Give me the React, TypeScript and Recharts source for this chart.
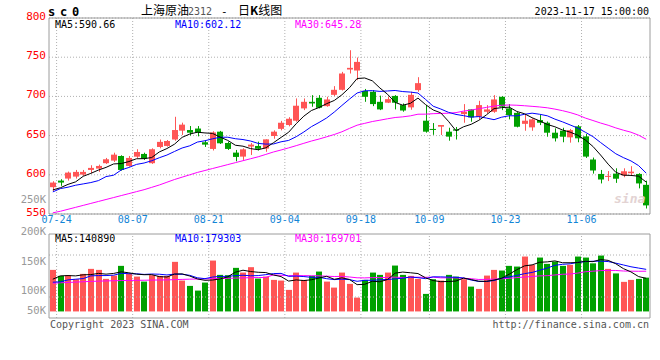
import React from 'react';
import { ComposedChart, Bar, Line, XAxis, YAxis, CartesianGrid, ReferenceLine } from 'recharts';

const MONO = '"DejaVu Sans Mono", monospace';
const CJK = '"Noto Sans CJK SC", sans-serif';
const UP = '#ff5555';
const DOWN = '#00a000';
const FRAME = '#9c9c9c';
const GRID = '#b0b0b0';
const DATE_BLUE = '#1285d6';

const dates = [
  '07-24', '07-25', '07-26', '07-27', '07-28', '07-31',
  '08-01', '08-02', '08-03', '08-04', '08-07', '08-08', '08-09', '08-10', '08-11', '08-14', '08-15', '08-16',
  '08-17', '08-18', '08-21', '08-22', '08-23', '08-24', '08-25', '08-28', '08-29', '08-30', '08-31',
  '09-01', '09-04', '09-05', '09-06', '09-07', '09-08', '09-11', '09-12', '09-13', '09-14', '09-15', '09-18',
  '09-19', '09-20', '09-21', '09-22', '09-25', '09-26', '09-27', '09-28',
  '10-09', '10-10', '10-11', '10-12', '10-13', '10-16', '10-17', '10-18', '10-19', '10-20', '10-23', '10-24',
  '10-25', '10-26', '10-27', '10-30', '10-31',
  '11-01', '11-02', '11-03', '11-06', '11-07', '11-08', '11-09', '11-10', '11-13', '11-14', '11-15', '11-16', '11-17',
];
const tickDates = ['07-24', '08-07', '08-21', '09-04', '09-18', '10-09', '10-23', '11-06'];
const priceTicks = [550, 600, 650, 700, 750, 800];

const opens = [
  584.2, 592.6, 595.2, 597.7, 600.3, 606.2, 607.9, 614.8, 618.1, 624,
  611.3, 623.1, 626.6, 614.8, 635.5, 636.8, 645, 656.3, 657.1, 659,
  641.5, 633, 655, 640.6, 628.3, 623.2, 636, 636.8, 633.5, 649.5,
  658.6, 663.5, 669, 684.7, 693.1, 698.2, 687.6, 702, 708.4, 734.3,
  733, 707.1, 705.9, 693.1, 692, 700.6, 688.9, 686, 708, 669,
  658.5, 661.4, 655, 658, 677.4, 683.4, 674.1, 680.4, 680.4, 699.5,
  684.7, 679, 665, 660.5, 669.8, 666.4, 653.7, 656.3, 647.8, 661.8,
  649, 619.5, 601.1, 597.3, 601.5, 599.3, 602, 601.1, 587.2,
];
const highs = [
  591.8, 594.4, 604.1, 606.2, 606.2, 612.2, 613, 621.5, 628.2, 624.9,
  624, 632.6, 628.2, 633.8, 645, 644.4, 674, 666.5, 662.2, 662.2,
  644.4, 655.5, 656, 642.3, 631.7, 633.8, 640.6, 642.3, 645.3, 656.7,
  668.8, 673.5, 697.4, 697.4, 701.6, 701.6, 699.5, 713.1, 731.3, 758.9,
  749.6, 709.5, 708, 701, 699.5, 701.6, 691, 706, 724.5, 689,
  666, 663.5, 660, 661, 690.2, 683.4, 694.4, 688.9, 701.6, 700.3,
  690.2, 680, 677, 671.9, 676.2, 668, 659.2, 660, 658.5, 663.5,
  652, 622, 606.2, 604.8, 608.3, 608.3, 611, 602, 592.5,
];
const lows = [
  579.5, 585.9, 592.6, 595.2, 598.6, 602, 603.7, 613.9, 616.4, 605.3,
  610.4, 621.5, 618.9, 613.9, 633.8, 635.9, 643.4, 650.8, 650, 649,
  635.5, 631, 639.3, 631.7, 617.2, 619, 625.3, 631, 629.4, 646,
  656.7, 661.8, 667.7, 682.5, 686.8, 684.7, 686.8, 700.5, 707.5, 729.2,
  720.7, 693.1, 687.6, 682.5, 691.5, 683.4, 680.5, 683, 705.9, 653.7,
  651, 650.8, 643.5, 645, 666.4, 667.7, 670.7, 678.3, 679.1, 682.5,
  670.7, 660.5, 656.2, 656.2, 663.4, 648.6, 642.5, 641.5, 641, 641.5,
  621.5, 601.5, 589, 592, 589.7, 596.9, 599, 582.7, 557,
];
const closes = [
  590.1, 590.1, 602.8, 603.7, 603.7, 608.8, 611.3, 619.8, 625.7, 606.2,
  621.5, 629.1, 620.6, 632.6, 642, 643.1, 657.1, 664, 653.7, 653.7,
  638.5, 654, 640.2, 633, 622.8, 632.5, 638.5, 633.2, 645.2, 655,
  666.4, 671.5, 688.1, 693.1, 691, 685.5, 696.1, 708.4, 729.2, 736.4,
  744, 699.5, 690.2, 683.4, 696.5, 691.9, 682, 702, 716.9, 655,
  657.5, 663.5, 648.7, 656.3, 680.4, 673.2, 688.9, 683.4, 696.1, 686.8,
  676.2, 661.3, 669, 670.7, 666.4, 653.7, 646.5, 648.6, 657, 646.5,
  623.2, 605.5, 594, 598.6, 595, 604.5, 604, 589, 561,
];
const volumes = [
  177000, 151500, 154500, 137400, 160000, 181400, 177000, 138700, 152800, 194200,
  160000, 148500, 127200, 154500, 151500, 151500, 211300, 131500, 108800, 88800,
  123000, 216800, 155800, 154500, 185700, 165600, 188600, 140000, 148500, 134400,
  131500, 91800, 165600, 134400, 151500, 169900, 127200, 101600, 165600, 117400,
  58900, 134400, 165600, 155800, 165600, 195500, 155800, 151500, 138700, 74700,
  137400, 131500, 155800, 148500, 137400, 105800, 96000, 152800, 177000, 174200,
  194200, 191200, 233900, 198500, 229600, 202700, 212500, 194200, 198500, 233900,
  229600, 205000, 238200, 181400, 162000, 126000, 134400, 138700, 144000,
];

const ma5Early = [580.7, 583.5, 587.8, 591];
const ma10Early = [578.2, 582.4, 584.2, 586.7, 588.4, 590.1, 592.6, 597.7, 599.5];
const ma30Early = [
  551.5, 553.5, 556, 558.5, 561, 563.5, 566, 568.5, 571, 573.5, 576, 578.5, 581, 584, 587,
  590.5, 594, 597, 600, 603, 605.5, 608, 610.5, 613, 615.5, 618, 620.5, 623, 626,
];
const vma5Early = [137400, 151500, 152800, 151500];
const vma10Early = [124600, 126000, 134400, 137400, 140000, 151500, 152800, 152800, 154500];
const vma30Early = [
  120400, 122000, 123500, 125000, 126500, 128000, 129000, 130000, 130800, 131500, 132000, 132500,
  133000, 133500, 134000, 134400, 135500, 136500, 137500, 138300, 138700, 139500, 140300, 141000,
  142000, 143000, 143800, 144400, 145000,
];

const VOL_MIN = -28000;
const VOL_MAX = 330000;

const movingAvg = (vals: number[], n: number, early: number[]) =>
  vals.map((_, i) => {
    if (i < n - 1) return early[i];
    const win = vals.slice(i - n + 1, i + 1);
    return win.reduce((a, b) => a + b, 0) / n;
  });

const ma5 = movingAvg(closes, 5, ma5Early);
const ma10 = movingAvg(closes, 10, ma10Early);
const ma30 = movingAvg(closes, 30, ma30Early);
const vma5 = movingAvg(volumes, 5, vma5Early);
const vma10 = movingAvg(volumes, 10, vma10Early);
const vma30 = movingAvg(volumes, 30, vma30Early);

const rows = dates.map((date, i) => ({
  date,
  open: opens[i],
  high: highs[i],
  low: lows[i],
  close: closes[i],
  range: [lows[i], highs[i]],
  vol: volumes[i],
  ma5: ma5[i],
  ma10: ma10[i],
  ma30: ma30[i],
  vma5: vma5[i],
  vma10: vma10[i],
  vma30: vma30[i],
}));

const Candle = (props: any) => {
  const { x, y, width, height, payload } = props;
  const { open, close, high, low } = payload;
  const color = close >= open ? UP : DOWN;
  const k = high === low ? 0 : height / (high - low);
  const py = (v: number) => y + (high - v) * k;
  const left = Math.round(x);
  const mid = left + Math.floor(width / 2) + 0.5;
  const top = py(Math.max(open, close));
  const bottom = py(Math.min(open, close));
  return (
    <g>
      <line x1={mid} x2={mid} y1={y} y2={y + height} stroke={color} strokeWidth={1} />
      <rect x={left} y={top} width={width} height={Math.max(1, bottom - top)} fill={color} />
    </g>
  );
};

const VolBar = (props: any) => {
  const { x, y, width, height, payload } = props;
  return (
    <rect
      x={Math.round(x)}
      y={y}
      width={width}
      height={Math.max(0, height)}
      fill={payload.close >= payload.open ? UP : DOWN}
    />
  );
};

// price labels sit a little above their grid lines, as in the Sina chart
const PriceTick = (props: any) => {
  const { x, y, payload } = props;
  return (
    <text x={x} y={y - 2} dy="0.355em" textAnchor="end" fill="#ff0000" fontSize={11} fontFamily={MONO}>
      {payload.value}
    </text>
  );
};

const lineProps = { type: 'linear' as const, dot: false, strokeWidth: 1, isAnimationActive: false, activeDot: false };

const App = () => {
  const last = dates[dates.length - 1];
  const volStep = (VOL_MAX - VOL_MIN) / 4;

  return (
    <div style={{ position: 'fixed', left: 0, top: 0, width: 660, height: 360, background: '#fff' }}>
      <div style={{ position: 'absolute', left: 0, top: 0 }}>
        <ComposedChart width={660} height={232} data={rows} margin={{ top: 18, right: 10, bottom: 18, left: 0 }}>
          <CartesianGrid vertical={false} stroke={GRID} strokeDasharray="1 2" />
          <XAxis dataKey="date" hide />
          <YAxis
            domain={[550, 800]}
            ticks={priceTicks}
            interval={0}
            width={49}
            axisLine={false}
            tickLine={false}
            tickSize={0}
            tickMargin={3}
            tick={PriceTick}
          />
          {tickDates.map((d) => (
            <ReferenceLine
              key={d}
              x={d}
              position="end"
              stroke={GRID}
              strokeDasharray="1 2"
              label={{ value: d, position: 'bottom', offset: 2, fill: DATE_BLUE, fontSize: 10, fontFamily: MONO }}
            />
          ))}
          <Bar dataKey="range" barSize={6} shape={Candle} isAnimationActive={false} />
          <Line dataKey="ma30" stroke="#ff00ff" {...lineProps} />
          <Line dataKey="ma10" stroke="#0000ff" {...lineProps} />
          <Line dataKey="ma5" stroke="#000000" {...lineProps} />
          <ReferenceLine y={800} stroke={FRAME} />
          <ReferenceLine y={550} stroke={FRAME} />
          <ReferenceLine x={dates[0]} position="start" stroke={FRAME} />
          <ReferenceLine x={last} position="end" stroke={FRAME} />
        </ComposedChart>
      </div>

      <div style={{ position: 'absolute', left: 0, top: 232 }}>
        <ComposedChart width={660} height={88} data={rows} margin={{ top: 2, right: 10, bottom: 2, left: 49 }}>
          <XAxis dataKey="date" hide />
          <YAxis hide domain={[VOL_MIN, VOL_MAX]} allowDataOverflow />
          {tickDates.map((d) => (
            <ReferenceLine key={d} x={d} position="end" stroke={GRID} strokeDasharray="1 2" />
          ))}
          <ReferenceLine y={VOL_MAX - volStep} stroke={GRID} strokeDasharray="1 2" />
          <ReferenceLine y={VOL_MIN + volStep} stroke={GRID} strokeDasharray="1 2" />
          <Bar dataKey="vol" barSize={6} shape={VolBar} isAnimationActive={false} />
          <Line dataKey="vma30" stroke="#ff00ff" {...lineProps} />
          <Line dataKey="vma10" stroke="#0000ff" {...lineProps} />
          <Line dataKey="vma5" stroke="#000000" {...lineProps} />
          <ReferenceLine y={VOL_MAX} stroke={FRAME} />
          <ReferenceLine y={VOL_MIN} stroke={FRAME} />
          <ReferenceLine x={dates[0]} position="start" stroke={FRAME} />
          <ReferenceLine x={last} position="end" stroke={FRAME} />
        </ComposedChart>
      </div>

      <svg width={660} height={360} style={{ position: 'absolute', left: 0, top: 0, pointerEvents: 'none' }}>
        <text x={48} y={16} fontFamily={MONO} fontSize={12} fontWeight="bold" letterSpacing={4.8} fill="#000">sc0</text>
        <text x={141} y={15} fontFamily={CJK} fontSize={12} fill="#000">上海原油</text>
        <text x={188} y={15} fontFamily={MONO} fontSize={10} fill="#555">2312</text>
        <text x={221} y={15} fontFamily={MONO} fontSize={11} fill="#000">-</text>
        <text x={238} y={15} fontFamily={CJK} fontSize={12} fill="#000">日<tspan fontWeight="bold">K</tspan>线图</text>
        <text x={649} y={15} textAnchor="end" fontFamily={MONO} fontSize={10} fill="#000">2023-11-17 15:00:00</text>

        <text x={55} y={28} fontFamily={MONO} fontSize={10} fill="#000">MA5:590.66</text>
        <text x={175} y={28} fontFamily={MONO} fontSize={10} fill="#0000ff">MA10:602.12</text>
        <text x={295} y={28} fontFamily={MONO} fontSize={10} fill="#ff00ff">MA30:645.28</text>

        <text x={46} y={203} textAnchor="end" fontFamily={MONO} fontSize={10.5} fill="#999">250K</text>
        <text x={614} y={203} fontFamily={MONO} fontSize={13} fontStyle="italic" fontWeight="bold" fill="#e3d3d3">sina</text>

        <text x={46} y={235} textAnchor="end" fontFamily={MONO} fontSize={10.5} fill="#999">200K</text>
        <text x={46} y={265} textAnchor="end" fontFamily={MONO} fontSize={10.5} fill="#999">150K</text>
        <text x={46} y={294} textAnchor="end" fontFamily={MONO} fontSize={10.5} fill="#999">100K</text>
        <text x={46} y={314} textAnchor="end" fontFamily={MONO} fontSize={10.5} fill="#999">50K</text>

        <text x={55} y={242} fontFamily={MONO} fontSize={10} fill="#000">MA5:140890</text>
        <text x={175} y={242} fontFamily={MONO} fontSize={10} fill="#0000ff">MA10:179303</text>
        <text x={295} y={242} fontFamily={MONO} fontSize={10} fill="#ff00ff">MA30:169701</text>

        <text x={50} y={328} fontFamily={MONO} fontSize={10} fill="#555">Copyright 2023 SINA.COM</text>
        <text x={649} y={328} textAnchor="end" fontFamily={MONO} fontSize={10} fill="#555">http://finance.sina.com.cn</text>
      </svg>
    </div>
  );
};

export default App;
